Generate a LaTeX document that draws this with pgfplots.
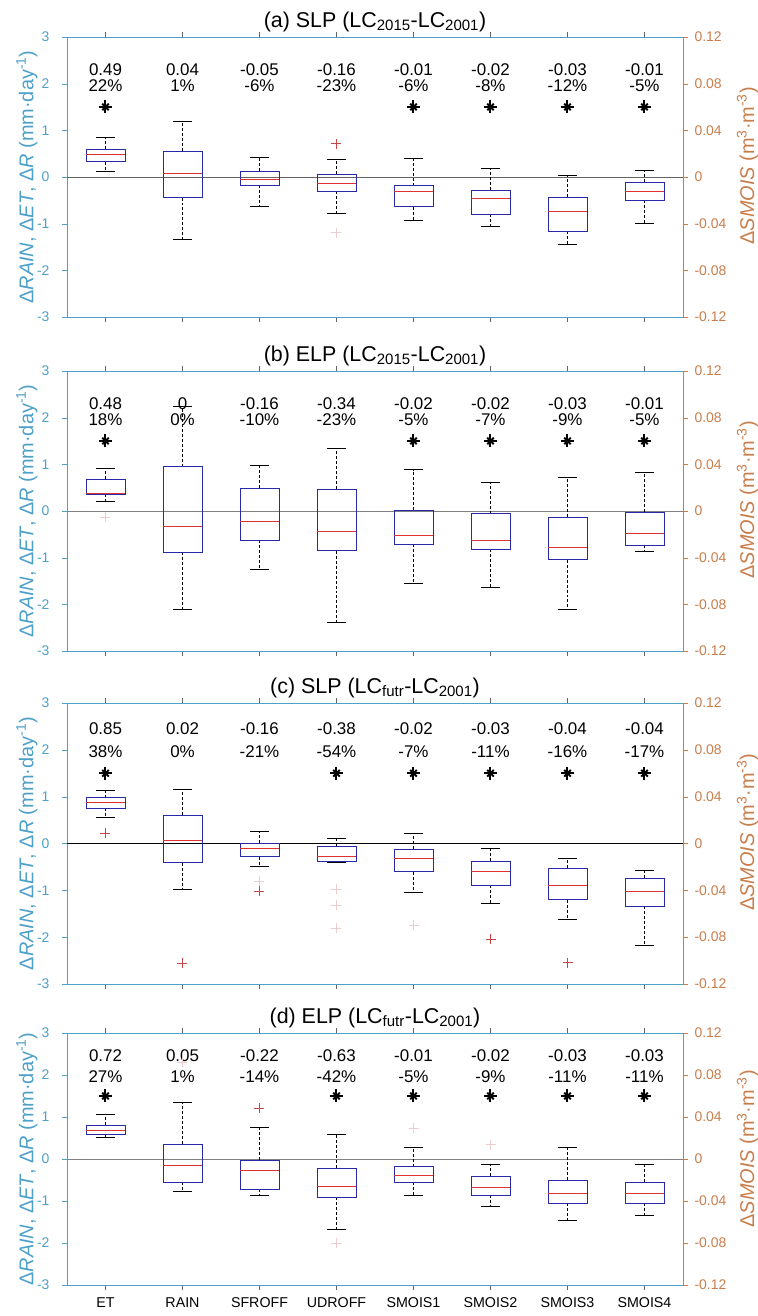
\documentclass[border=0pt]{standalone}
\usepackage{pgfplots}
\pgfplotsset{compat=1.18}
\usepgfplotslibrary{statistics}
\usepackage{fontspec}
\setmainfont{Liberation Sans}

\definecolor{leftc}{RGB}{77,160,200}
\definecolor{rightc}{RGB}{200,125,75}
\definecolor{boxc}{RGB}{40,40,170}
\definecolor{medc}{RGB}{220,50,50}
\definecolor{outc}{RGB}{200,70,70}
\definecolor{faintc}{RGB}{235,205,205}
\definecolor{framec}{RGB}{100,100,100}

\pgfplotsset{
  panel/.style={
    scale only axis, width=616bp, anchor=south west,
    xmin=0.5, xmax=8.5, ymin=-3, ymax=3,
    xtick={1,...,8}, xticklabels={},
    tick align=outside, major tick length=5bp,
    ticklabel style={font=\fontsize{14}{16}\selectfont},
    clip=false,
  },
  leftax/.style={panel,
    axis line style={framec},
    y axis line style={leftc},
    xtick pos=both, ytick pos=left,
    ytick={-3,...,3}, yticklabels={-3,-2,-1,0,1,2,3},
    y tick style={leftc}, x tick style={framec},
    yticklabel style={leftc, xshift=-9bp},
    every axis y label/.style={at={(axis description cs:-0.065,0.5)}, rotate=90,
      anchor=center, font=\fontsize{20}{22}\selectfont, leftc},
    ylabel={Δ\textit{RAIN}, Δ\textit{ET}, Δ\textit{R} (mm·day\textsuperscript{-1})},
    title style={font=\fontsize{21.5}{24}\selectfont, yshift=-4bp},
  },
  rightax/.style={panel,
    axis x line=none, axis y line*=right,
    ymin=-0.12, ymax=0.12,
    ytick={-0.12,-0.08,-0.04,0,0.04,0.08,0.12},
    yticklabels={-0.12,-0.08,-0.04,0,0.04,0.08,0.12},
    y axis line style={rightc}, y tick style={rightc},
    yticklabel style={rightc, xshift=3bp},
    every axis y label/.style={at={(axis description cs:1.105,0.54)}, rotate=90,
      anchor=center, font=\fontsize{20}{22}\selectfont, rightc},
    ylabel={Δ\textit{SMOIS} (m\textsuperscript{3}·m\textsuperscript{-3})},
  },
  bx/.style={draw=boxc, thin,
    boxplot/draw direction=y,
    boxplot/box extend=0.5, boxplot/whisker extend=0.25,
    boxplot/every box/.style={draw=boxc},
    boxplot/every median/.style={draw=medc},
    boxplot/draw/whisker/.code 2 args={%
      \draw[black, densely dashed] (boxplot cs:##1) -- (boxplot cs:##2);
      \draw[black] (boxplot whisker cs:##2,0) -- (boxplot whisker cs:##2,1);
    },
  },
  outl/.style={only marks, mark=+, mark size=5bp, outc, thin},
  faint/.style={only marks, mark=+, mark size=5bp, faintc, thin},
}
\tikzset{annf/.style={font=\fontsize{17}{19}\selectfont, black}}

% draw position, lower whisker, lower quartile, median, upper quartile, upper whisker
\newcommand\bx[6]{\addplot[bx, boxplot prepared={draw position=#1,
  lower whisker=#2, lower quartile=#3, median=#4, upper quartile=#5,
  upper whisker=#6}] coordinates {};}
\newcommand\ann[4]{\node[annf] at (axis cs:#1,#2) {#3};
  \node[annf] at (axis cs:#1,1.96) {#4};}
\newcommand\stars[1]{%
  \addplot[only marks, mark=+, mark size=6.5bp, line width=2bp, black] coordinates {#1};
  \addplot[only marks, mark=x, mark size=4.6bp, line width=2bp, black] coordinates {#1};}

\begin{document}
\begin{tikzpicture}
\useasboundingbox (0,0) rectangle (758bp,1316bp);

%% (a)
\begin{axis}[leftax, at={(67bp,999bp)}, height=280bp,
  title={(a) SLP (LC\textsubscript{2015}-LC\textsubscript{2001})}]
\addplot[framec, no marks] coordinates {(0.5,0) (8.5,0)};
\bx{1}{0.13}{0.33}{0.49}{0.59}{0.86}
\bx{2}{-1.34}{-0.44}{0.09}{0.56}{1.20}
\bx{3}{-0.63}{-0.17}{-0.05}{0.13}{0.42}
\bx{4}{-0.77}{-0.31}{-0.14}{0.06}{0.39}
\addplot[outl] coordinates {(4,0.714)};
\addplot[faint] coordinates {(4,-1.19)};
\stars{(1,1.5) (5,1.5) (6,1.5) (7,1.5) (8,1.5)}
\ann{1}{2.31}{0.49}{22\%} \ann{2}{2.31}{0.04}{1\%}
\ann{3}{2.31}{-0.05}{-6\%} \ann{4}{2.31}{-0.16}{-23\%}
\ann{5}{2.31}{-0.01}{-6\%} \ann{6}{2.31}{-0.02}{-8\%}
\ann{7}{2.31}{-0.03}{-12\%} \ann{8}{2.31}{-0.01}{-5\%}
\end{axis}
\begin{axis}[rightax, at={(67bp,999bp)}, height=280bp]
\bx{5}{-0.0370}{-0.0254}{-0.0126}{-0.0074}{0.0157}
\bx{6}{-0.0420}{-0.0317}{-0.0183}{-0.0111}{0.0074}
\bx{7}{-0.0580}{-0.0463}{-0.0291}{-0.0171}{0.0014}
\bx{8}{-0.0397}{-0.0200}{-0.0126}{-0.0043}{0.0054}
\end{axis}

%% (b)
\begin{axis}[leftax, at={(67bp,665bp)}, height=280bp,
  title={(b) ELP (LC\textsubscript{2015}-LC\textsubscript{2001})}]
\addplot[gray, no marks] coordinates {(0.5,0) (8.5,0)};
\bx{1}{0.22}{0.36}{0.39}{0.69}{0.92}
\bx{2}{-2.10}{-0.88}{-0.32}{0.95}{2.24}
\bx{3}{-1.25}{-0.62}{-0.22}{0.49}{0.98}
\bx{4}{-2.38}{-0.85}{-0.44}{0.47}{1.34}
\addplot[faint] coordinates {(1,-0.13)};
\stars{(1,1.5) (5,1.5) (6,1.5) (7,1.5) (8,1.5)}
\ann{1}{2.31}{0.48}{18\%} \ann{2}{2.31}{0}{0\%}
\ann{3}{2.31}{-0.16}{-10\%} \ann{4}{2.31}{-0.34}{-23\%}
\ann{5}{2.31}{-0.02}{-5\%} \ann{6}{2.31}{-0.02}{-7\%}
\ann{7}{2.31}{-0.03}{-9\%} \ann{8}{2.31}{-0.01}{-5\%}
\end{axis}
\begin{axis}[rightax, at={(67bp,665bp)}, height=280bp]
\bx{5}{-0.0617}{-0.0286}{-0.0211}{0.0011}{0.0354}
\bx{6}{-0.0651}{-0.0329}{-0.0254}{-0.0023}{0.0249}
\bx{7}{-0.0843}{-0.0417}{-0.0314}{-0.0054}{0.0286}
\bx{8}{-0.0346}{-0.0289}{-0.0191}{-0.0009}{0.0329}
\end{axis}

%% (c)
\begin{axis}[leftax, at={(67bp,332bp)}, height=281bp,
  title={(c) SLP (LC\textsubscript{futr}-LC\textsubscript{2001})}]
\addplot[black, no marks] coordinates {(0.5,0) (8.5,0)};
\bx{1}{0.56}{0.75}{0.89}{0.98}{1.14}
\bx{2}{-0.97}{-0.41}{0.08}{0.61}{1.17}
\bx{3}{-0.49}{-0.28}{-0.09}{0.01}{0.26}
\bx{4}{-0.39}{-0.386}{-0.27}{-0.05}{0.11}
\addplot[outl] coordinates {(1,0.23) (2,-2.56) (3,-1.01)};
\addplot[faint] coordinates {(3,-0.81) (4,-0.97) (4,-1.31) (4,-1.81)};
\stars{(1,1.5) (4,1.5) (5,1.5) (6,1.5) (7,1.5) (8,1.5)}
\ann{1}{2.46}{0.85}{38\%} \ann{2}{2.46}{0.02}{0\%}
\ann{3}{2.46}{-0.16}{-21\%} \ann{4}{2.46}{-0.38}{-54\%}
\ann{5}{2.46}{-0.02}{-7\%} \ann{6}{2.46}{-0.03}{-11\%}
\ann{7}{2.46}{-0.04}{-16\%} \ann{8}{2.46}{-0.04}{-17\%}
\end{axis}
\begin{axis}[rightax, at={(67bp,332bp)}, height=281bp]
\bx{5}{-0.0414}{-0.0240}{-0.0126}{-0.0046}{0.0089}
\bx{6}{-0.0511}{-0.0354}{-0.0240}{-0.0149}{-0.0040}
\bx{7}{-0.0649}{-0.0480}{-0.0360}{-0.0211}{-0.0129}
\bx{8}{-0.0866}{-0.0534}{-0.0411}{-0.0294}{-0.0229}
\addplot[outl] coordinates {(6,-0.0817) (7,-0.1017)};
\addplot[faint] coordinates {(5,-0.070)};
\end{axis}

%% (d)
\begin{axis}[leftax, at={(67bp,31bp)}, height=252bp,
  title={(d) ELP (LC\textsubscript{futr}-LC\textsubscript{2001})},
  xticklabels={ET,RAIN,SFROFF,UDROFF,SMOIS1,SMOIS2,SMOIS3,SMOIS4},
  xticklabel style={font=\fontsize{14.3}{16}\selectfont, black, yshift=-4bp}]
\addplot[gray, no marks] coordinates {(0.5,0) (8.5,0)};
\bx{1}{0.52}{0.60}{0.69}{0.80}{1.06}
\bx{2}{-0.77}{-0.55}{-0.14}{0.35}{1.35}
\bx{3}{-0.87}{-0.71}{-0.26}{-0.02}{0.76}
\bx{4}{-1.67}{-0.91}{-0.64}{-0.21}{0.59}
\addplot[outl] coordinates {(3,1.21)};
\addplot[faint] coordinates {(2,2.30) (4,-2.00)};
\stars{(1,1.5) (4,1.5) (5,1.5) (6,1.5) (7,1.5) (8,1.5)}
\ann{1}{2.46}{0.72}{27\%} \ann{2}{2.46}{0.05}{1\%}
\ann{3}{2.46}{-0.22}{-14\%} \ann{4}{2.46}{-0.63}{-42\%}
\ann{5}{2.46}{-0.01}{-5\%} \ann{6}{2.46}{-0.02}{-9\%}
\ann{7}{2.46}{-0.03}{-11\%} \ann{8}{2.46}{-0.03}{-11\%}
\end{axis}
\begin{axis}[rightax, at={(67bp,31bp)}, height=252bp]
\bx{5}{-0.0340}{-0.0219}{-0.0159}{-0.0073}{0.0108}
\bx{6}{-0.0454}{-0.0340}{-0.0267}{-0.0165}{-0.0048}
\bx{7}{-0.0584}{-0.0422}{-0.0321}{-0.0203}{0.0117}
\bx{8}{-0.0537}{-0.0422}{-0.0321}{-0.0219}{-0.0048}
\addplot[faint] coordinates {(5,0.0292) (6,0.0137)};
\end{axis}
\end{tikzpicture}
\end{document}
